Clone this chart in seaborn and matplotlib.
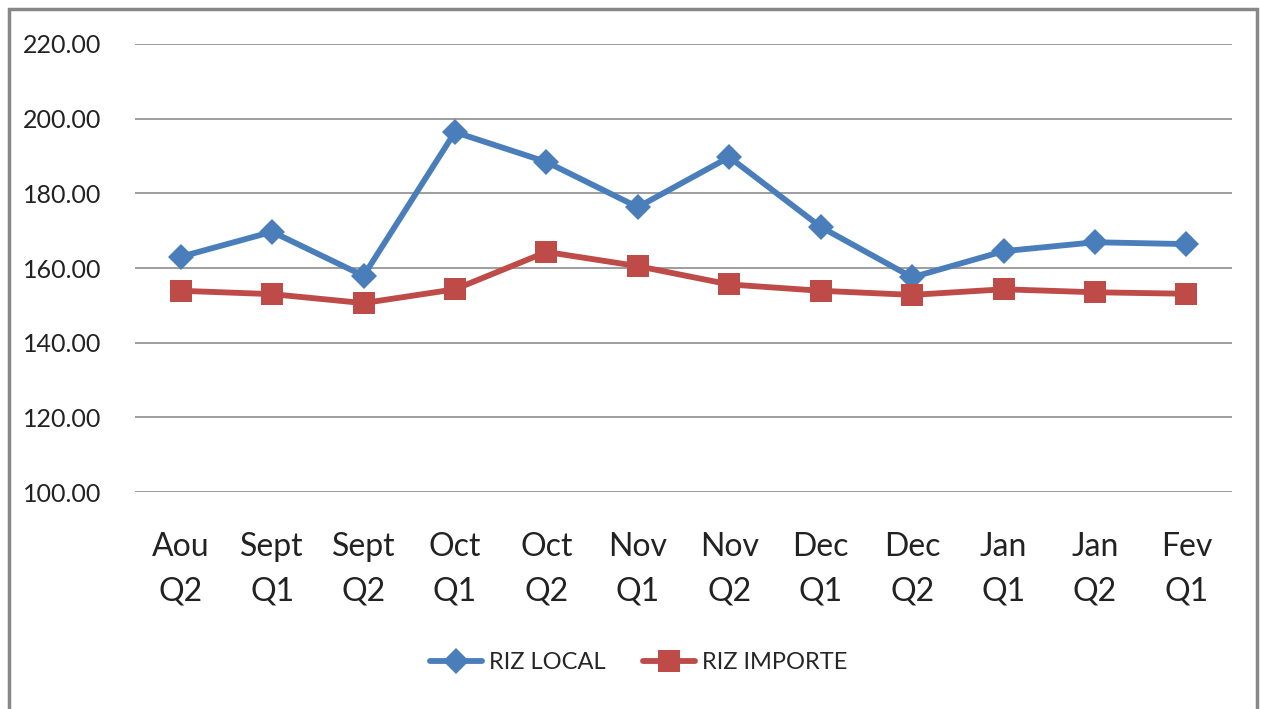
import matplotlib
matplotlib.use("Agg")
import matplotlib.pyplot as plt
import seaborn as sns
import pandas as pd
from matplotlib.patches import Rectangle
from matplotlib.lines import Line2D

categories = ["Aou\nQ2", "Sept\nQ1", "Sept\nQ2", "Oct\nQ1", "Oct\nQ2", "Nov\nQ1",
              "Nov\nQ2", "Dec\nQ1", "Dec\nQ2", "Jan\nQ1", "Jan\nQ2", "Fev\nQ1"]
riz_local = [163.0, 169.7, 157.9, 196.4, 188.4, 176.3, 189.7, 171.0, 157.5, 164.5, 166.9, 166.4]
riz_importe = [153.9, 153.0, 150.6, 154.3, 164.3, 160.5, 155.6, 153.9, 152.8, 154.3, 153.5, 153.1]
series_names = ["RIZ LOCAL", "RIZ IMPORTE"]
y_ticks = [100, 120, 140, 160, 180, 200, 220]

sns.set_theme(style="white")
plt.rcParams['font.family'] = ['Lato', 'DejaVu Sans']

df = pd.DataFrame({
    "cat": list(range(len(categories))) * 2,
    "value": riz_local + riz_importe,
    "series": [series_names[0]] * len(categories) + [series_names[1]] * len(categories),
})

fig = plt.figure(figsize=(12.65, 7.09), dpi=100)
fig.patch.set_facecolor("white")
ax = fig.add_axes([0.1067, 0.306, 0.8673, 0.632])

palette = {series_names[0]: "#4A7EBB", series_names[1]: "#BE4B48"}
sns.lineplot(data=df, x="cat", y="value", hue="series", style="series",
             markers={series_names[0]: "D", series_names[1]: "s"}, dashes=False,
             palette=palette, linewidth=4.2, ax=ax, legend=False)
for line, ms in zip(ax.lines, [13, 16]):
    line.set_markersize(ms)
    line.set_markeredgewidth(0)

ax.set_xlim(-0.5, len(categories) - 0.5)
ax.set_ylim(100, 220)
ax.set_yticks(y_ticks)
ax.set_yticklabels([f"{v:.2f}" for v in y_ticks], fontsize=18, color="#222222")
ax.set_xticks(range(len(categories)))
ax.set_xticklabels(categories, fontsize=23, color="#222222", linespacing=1.6)
ax.tick_params(axis="y", length=0, pad=24)
ax.tick_params(axis="x", length=0, pad=29)
ax.set_xlabel("")
ax.set_ylabel("")
for s in ax.spines.values():
    s.set_visible(False)
ax.yaxis.grid(True, color="#8C8C8C", linewidth=1.2)
ax.set_axisbelow(True)

handles = [Line2D([0], [0], color="#4A7EBB", lw=4.2, marker="D", markersize=13, markeredgewidth=0),
           Line2D([0], [0], color="#BE4B48", lw=4.2, marker="s", markersize=16, markeredgewidth=0)]
fig.legend(handles, series_names, loc="center", bbox_to_anchor=(0.505, 0.065), ncol=2,
           frameon=False, fontsize=17, handlelength=2.2, columnspacing=1.6, handletextpad=0.3)

fig.add_artist(Rectangle((9 / 1265, -0.05), 1248 / 1265, 1 - 9 / 709 + 0.05,
                         transform=fig.transFigure, fill=False, edgecolor="#888888",
                         linewidth=2.5))

fig.savefig("out.png", dpi=100)
